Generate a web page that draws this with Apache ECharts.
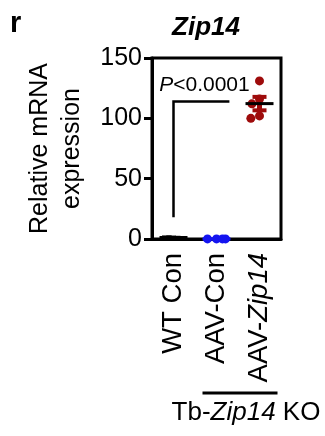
<!DOCTYPE html>
<html><head><meta charset="utf-8">
<script src="https://cdn.jsdelivr.net/npm/echarts@6/dist/echarts.min.js"></script>
<style>html,body{margin:0;padding:0;background:#fff}#c{width:325px;height:436px}</style>
</head><body><div id="c"></div>
<script>
const categories = ['WT Con', 'AAV-Con', 'AAV-Zip14'];
const wtCon = [1.2, 1.5, 1.0, 1.3];
const aavCon = [0.1, 0.05, 0.1, 0.08];
const aavZip14 = [131, 116, 112, 102, 100];
const yTicks = [0, 50, 100, 150];
const pLabel = 'P<0.0001';
const bracket = [18, 114];

function stats(a){const n=a.length;const m=a.reduce((s,v)=>s+v,0)/n;const sd=Math.sqrt(a.reduce((s,v)=>s+(v-m)*(v-m),0)/(n-1));return [m, sd/Math.sqrt(n)];}
const groups = [wtCon, aavCon, aavZip14];
const colors = ['#000000', '#1414f0', '#9e0b0b'];
const meanColors = ['#000000', '#1414f0', '#000000'];
const summary = groups.map((g,i)=>{const s=stats(g);return [i, s[0], s[1]];});

const FONT = 'Liberation Sans, Arial, sans-serif';
const chart = echarts.init(document.getElementById('c'), null, {renderer:'canvas'});
const baseGraphic = [
  {type:'text', left:10, top:9, style:{text:'r', font:'bold 29px '+FONT, fill:'#000'}},
  {type:'text', x:206, y:28, style:{text:'Zip14', font:'italic bold 26px '+FONT, fill:'#000', align:'center', verticalAlign:'middle'}}
];
const option = {
  animation: false,
  grid: {left:152, right:44, top:58, bottom:197, show:true, borderColor:'#000', borderWidth:3},
  xAxis: {type:'category', data:categories, jitter: 26, jitterOverlap:false, jitterMargin:0,
    axisLine:{lineStyle:{color:'#000', width:3}},
    axisTick:{alignWithLabel:true, length:7, lineStyle:{color:'#000', width:3}},
    axisLabel:{rotate:90, margin:14, color:'#000', fontSize:27.5, fontFamily:FONT,
      formatter: v => v === 'AAV-Zip14' ? 'AAV-{i|Zip14}' : v,
      rich:{i:{fontStyle:'italic', fontSize:27.5, fontFamily:FONT, color:'#000'}}}},
  yAxis: {type:'value', min:0, max:150, interval:50,
    name:'Relative mRNA\nexpression', nameLocation:'middle', nameGap:64, nameRotate:90,
    nameTextStyle:{fontSize:25, fontFamily:FONT, color:'#000', lineHeight:32},
    axisLine:{show:true, lineStyle:{color:'#000', width:3}},
    axisTick:{show:true, length:8, lineStyle:{color:'#000', width:3}},
    splitLine:{show:false},
    axisLabel:{margin:10, color:'#000', fontSize:25, fontFamily:FONT,
      formatter: v => yTicks.includes(v) ? String(v) : ''}},
  series: [
    {type:'custom', z:3, data: summary, renderItem:(params, api)=>{
      const i = api.value(0), m = api.value(1), se = api.value(2);
      const c = api.coord([i, m]);
      const hi = api.coord([i, m+se]), lo = api.coord([i, m-se]);
      const children = [];
      if (i === 2) {
        const col = colors[2];
        children.push({type:'line', shape:{x1:c[0], y1:hi[1], x2:c[0], y2:lo[1]}, style:{stroke:col, lineWidth:5}});
        children.push({type:'line', shape:{x1:c[0]-7, y1:hi[1], x2:c[0]+7, y2:hi[1]}, style:{stroke:col, lineWidth:4}});
        children.push({type:'line', shape:{x1:c[0]-7, y1:lo[1], x2:c[0]+7, y2:lo[1]}, style:{stroke:col, lineWidth:4}});
      }
      children.push({type:'line', shape:{x1:c[0]-14, y1:c[1], x2:c[0]+14, y2:c[1]}, style:{stroke:meanColors[i], lineWidth:3}});
      return {type:'group', children};
    }},
    {type:'scatter', z:4, symbol:'rect', symbolSize:[5,4], itemStyle:{color:colors[0], opacity:1},
      data: wtCon.map(v=>[categories[0], v])},
    {type:'scatter', z:4, symbol:'circle', symbolSize:9, itemStyle:{color:colors[1], opacity:1},
      data: aavCon.map(v=>[categories[1], v])},
    {type:'scatter', z:2, symbol:'circle', symbolSize:9, itemStyle:{color:colors[2], opacity:1},
      data: aavZip14.map(v=>[categories[2], v])},
    {type:'custom', z:5, data:[[0, bracket[0], bracket[1]]], renderItem:(params, api)=>{
      const a = api.coord([0, api.value(1)]);
      const b = api.coord([0, api.value(2)]);
      const c = api.coord([1, api.value(2)]);
      const bw = api.size([1, 0])[0];
      const xEnd = c[0] + bw*0.3;
      return {type:'group', children:[
        {type:'polyline', shape:{points:[a, b, [xEnd, b[1]]]}, style:{stroke:'#000', lineWidth:2.5, fill:null}},
        {type:'text', x:(b[0]+xEnd)/2+3, y:b[1]-6, style:{text:'{i|P}{n|<0.0001}', align:'center', verticalAlign:'bottom',
          rich:{i:{fontStyle:'italic', fontSize:21, fontFamily:FONT, fill:'#000'}, n:{fontSize:21, fontFamily:FONT, fill:'#000'}}}}
      ]};
    }}
  ],
  graphic: baseGraphic
};
chart.setOption(option);
const x1 = chart.convertToPixel({xAxisIndex:0}, categories[1]);
const x2 = chart.convertToPixel({xAxisIndex:0}, categories[2]);
chart.setOption({graphic: baseGraphic.concat([
  {type:'line', shape:{x1:x1-14, y1:393, x2:x2+18, y2:393}, style:{stroke:'#000', lineWidth:3}},
  {type:'text', x:(x1+x2)/2+8, y:413, style:{text:'Tb-{i|Zip14} KO', align:'center', verticalAlign:'middle', font:'26px '+FONT, fill:'#000',
    rich:{i:{fontStyle:'italic', fontSize:26, fontFamily:FONT}}}}
])});
</script></body></html>
